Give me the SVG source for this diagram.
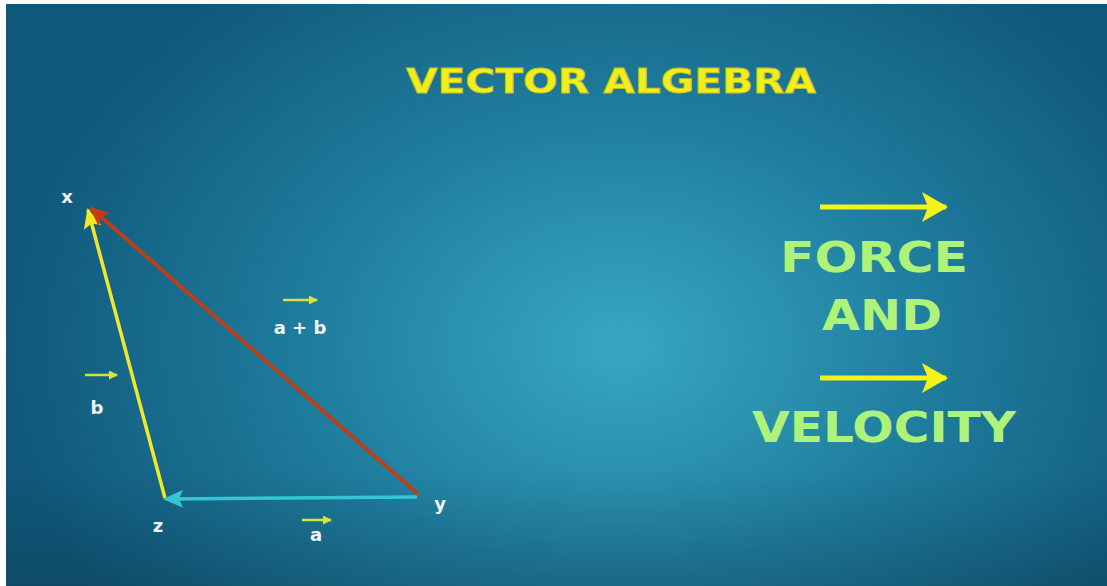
<svg xmlns="http://www.w3.org/2000/svg" width="1107" height="586" viewBox="0 0 1107 586">
<defs>
<radialGradient id="bg" cx="620" cy="345" r="620" gradientUnits="userSpaceOnUse" gradientTransform="translate(620 345) scale(1 0.75) translate(-620 -345)">
<stop offset="0" stop-color="#37a8c2"/>
<stop offset="0.5" stop-color="#1f7d9e"/>
<stop offset="1" stop-color="#10587a"/>
</radialGradient>
<linearGradient id="shade" x1="0" y1="0" x2="0" y2="1">
<stop offset="0" stop-color="#000" stop-opacity="0"/>
<stop offset="0.8" stop-color="#000" stop-opacity="0"/>
<stop offset="1" stop-color="#000" stop-opacity="0.15"/>
</linearGradient>
<marker id="mkY" markerWidth="20" markerHeight="18" refX="18" refY="9" orient="auto" markerUnits="userSpaceOnUse" viewBox="0 0 20 18"><path d="M0,0 L20,9 L0,18 L4,9 Z" fill="#f1e82a"/></marker>
<marker id="mkR" markerWidth="20" markerHeight="18" refX="18" refY="9" orient="auto" markerUnits="userSpaceOnUse" viewBox="0 0 20 18"><path d="M0,0 L20,9 L0,18 L4,9 Z" fill="#c43a12"/></marker>
<marker id="mkC" markerWidth="20" markerHeight="18" refX="18" refY="9" orient="auto" markerUnits="userSpaceOnUse" viewBox="0 0 20 18"><path d="M0,0 L20,9 L0,18 L4,9 Z" fill="#33c6d6"/></marker>
<marker id="mkB" markerWidth="26" markerHeight="30" refX="24" refY="15" orient="auto" markerUnits="userSpaceOnUse" viewBox="0 0 26 30"><path d="M0,0 L26,15 L0,30 L6,15 Z" fill="#f4f21a"/></marker>
<marker id="mkS" markerWidth="9" markerHeight="9" refX="8" refY="4.5" orient="auto" markerUnits="userSpaceOnUse" viewBox="0 0 9 9"><path d="M0,0 L9,4.5 L0,9 Z" fill="#d4e43c"/></marker>
</defs>
<style>
.lbl{font-family:"DejaVu Sans","Liberation Sans",sans-serif;font-weight:bold;fill:#f2f2f2;font-size:18px}
.big{font-family:"DejaVu Sans","Liberation Sans",sans-serif;font-weight:bold;fill:#aef27a;font-size:42px}
.title{font-family:"DejaVu Sans","Liberation Sans",sans-serif;font-weight:bold;fill:#f0ef1c;stroke:#c8c020;stroke-width:0.8;font-size:33px}
.small{stroke:#d4e43c;stroke-width:2.5;fill:none}
</style>
<rect x="0" y="0" width="1107" height="586" fill="#ffffff"/>
<rect x="6" y="4" width="1101" height="582" fill="url(#bg)"/>
<rect x="6" y="4" width="1101" height="582" fill="url(#shade)"/>

<g id="title"><text class="title" x="611" y="93" text-anchor="middle" textLength="410" lengthAdjust="spacingAndGlyphs">VECTOR ALGEBRA</text></g>

<g id="connectors">
<line x1="165" y1="498" x2="88" y2="210" stroke="#f1e82a" stroke-width="3.5" marker-end="url(#mkY)"/>
<line x1="418" y1="494" x2="91" y2="208" stroke="#b8401a" stroke-width="4" marker-end="url(#mkR)"/>
<line x1="417" y1="497" x2="165" y2="499" stroke="#33c6d6" stroke-width="3.5" marker-end="url(#mkC)"/>
<line x1="820" y1="207" x2="946" y2="207" stroke="#f4f21a" stroke-width="5" marker-end="url(#mkB)"/>
<line x1="820" y1="378" x2="946" y2="378" stroke="#f4f21a" stroke-width="5" marker-end="url(#mkB)"/>
</g>

<g id="node-x"><text class="lbl" x="67" y="203" text-anchor="middle">x</text></g>
<g id="node-y"><text class="lbl" x="440" y="510" text-anchor="middle">y</text></g>
<g id="node-z"><text class="lbl" x="158" y="532" text-anchor="middle">z</text></g>

<g id="label-a">
<line class="small" x1="302" y1="520" x2="331" y2="520" marker-end="url(#mkS)"/>
<text class="lbl" x="316" y="541" text-anchor="middle">a</text>
</g>
<g id="label-b">
<line class="small" x1="85" y1="375" x2="117" y2="375" marker-end="url(#mkS)"/>
<text class="lbl" x="97" y="414" text-anchor="middle">b</text>
</g>
<g id="label-ab">
<line class="small" x1="283" y1="300" x2="317" y2="300" marker-end="url(#mkS)"/>
<text class="lbl" x="300" y="334" text-anchor="middle">a + b</text>
</g>

<g id="force"><text class="big" x="874" y="272" text-anchor="middle" textLength="188" lengthAdjust="spacingAndGlyphs">FORCE</text></g>
<g id="and"><text class="big" x="882" y="330" text-anchor="middle" textLength="120" lengthAdjust="spacingAndGlyphs">AND</text></g>
<g id="velocity"><text class="big" x="884" y="442" text-anchor="middle" textLength="264" lengthAdjust="spacingAndGlyphs">VELOCITY</text></g>
</svg>
